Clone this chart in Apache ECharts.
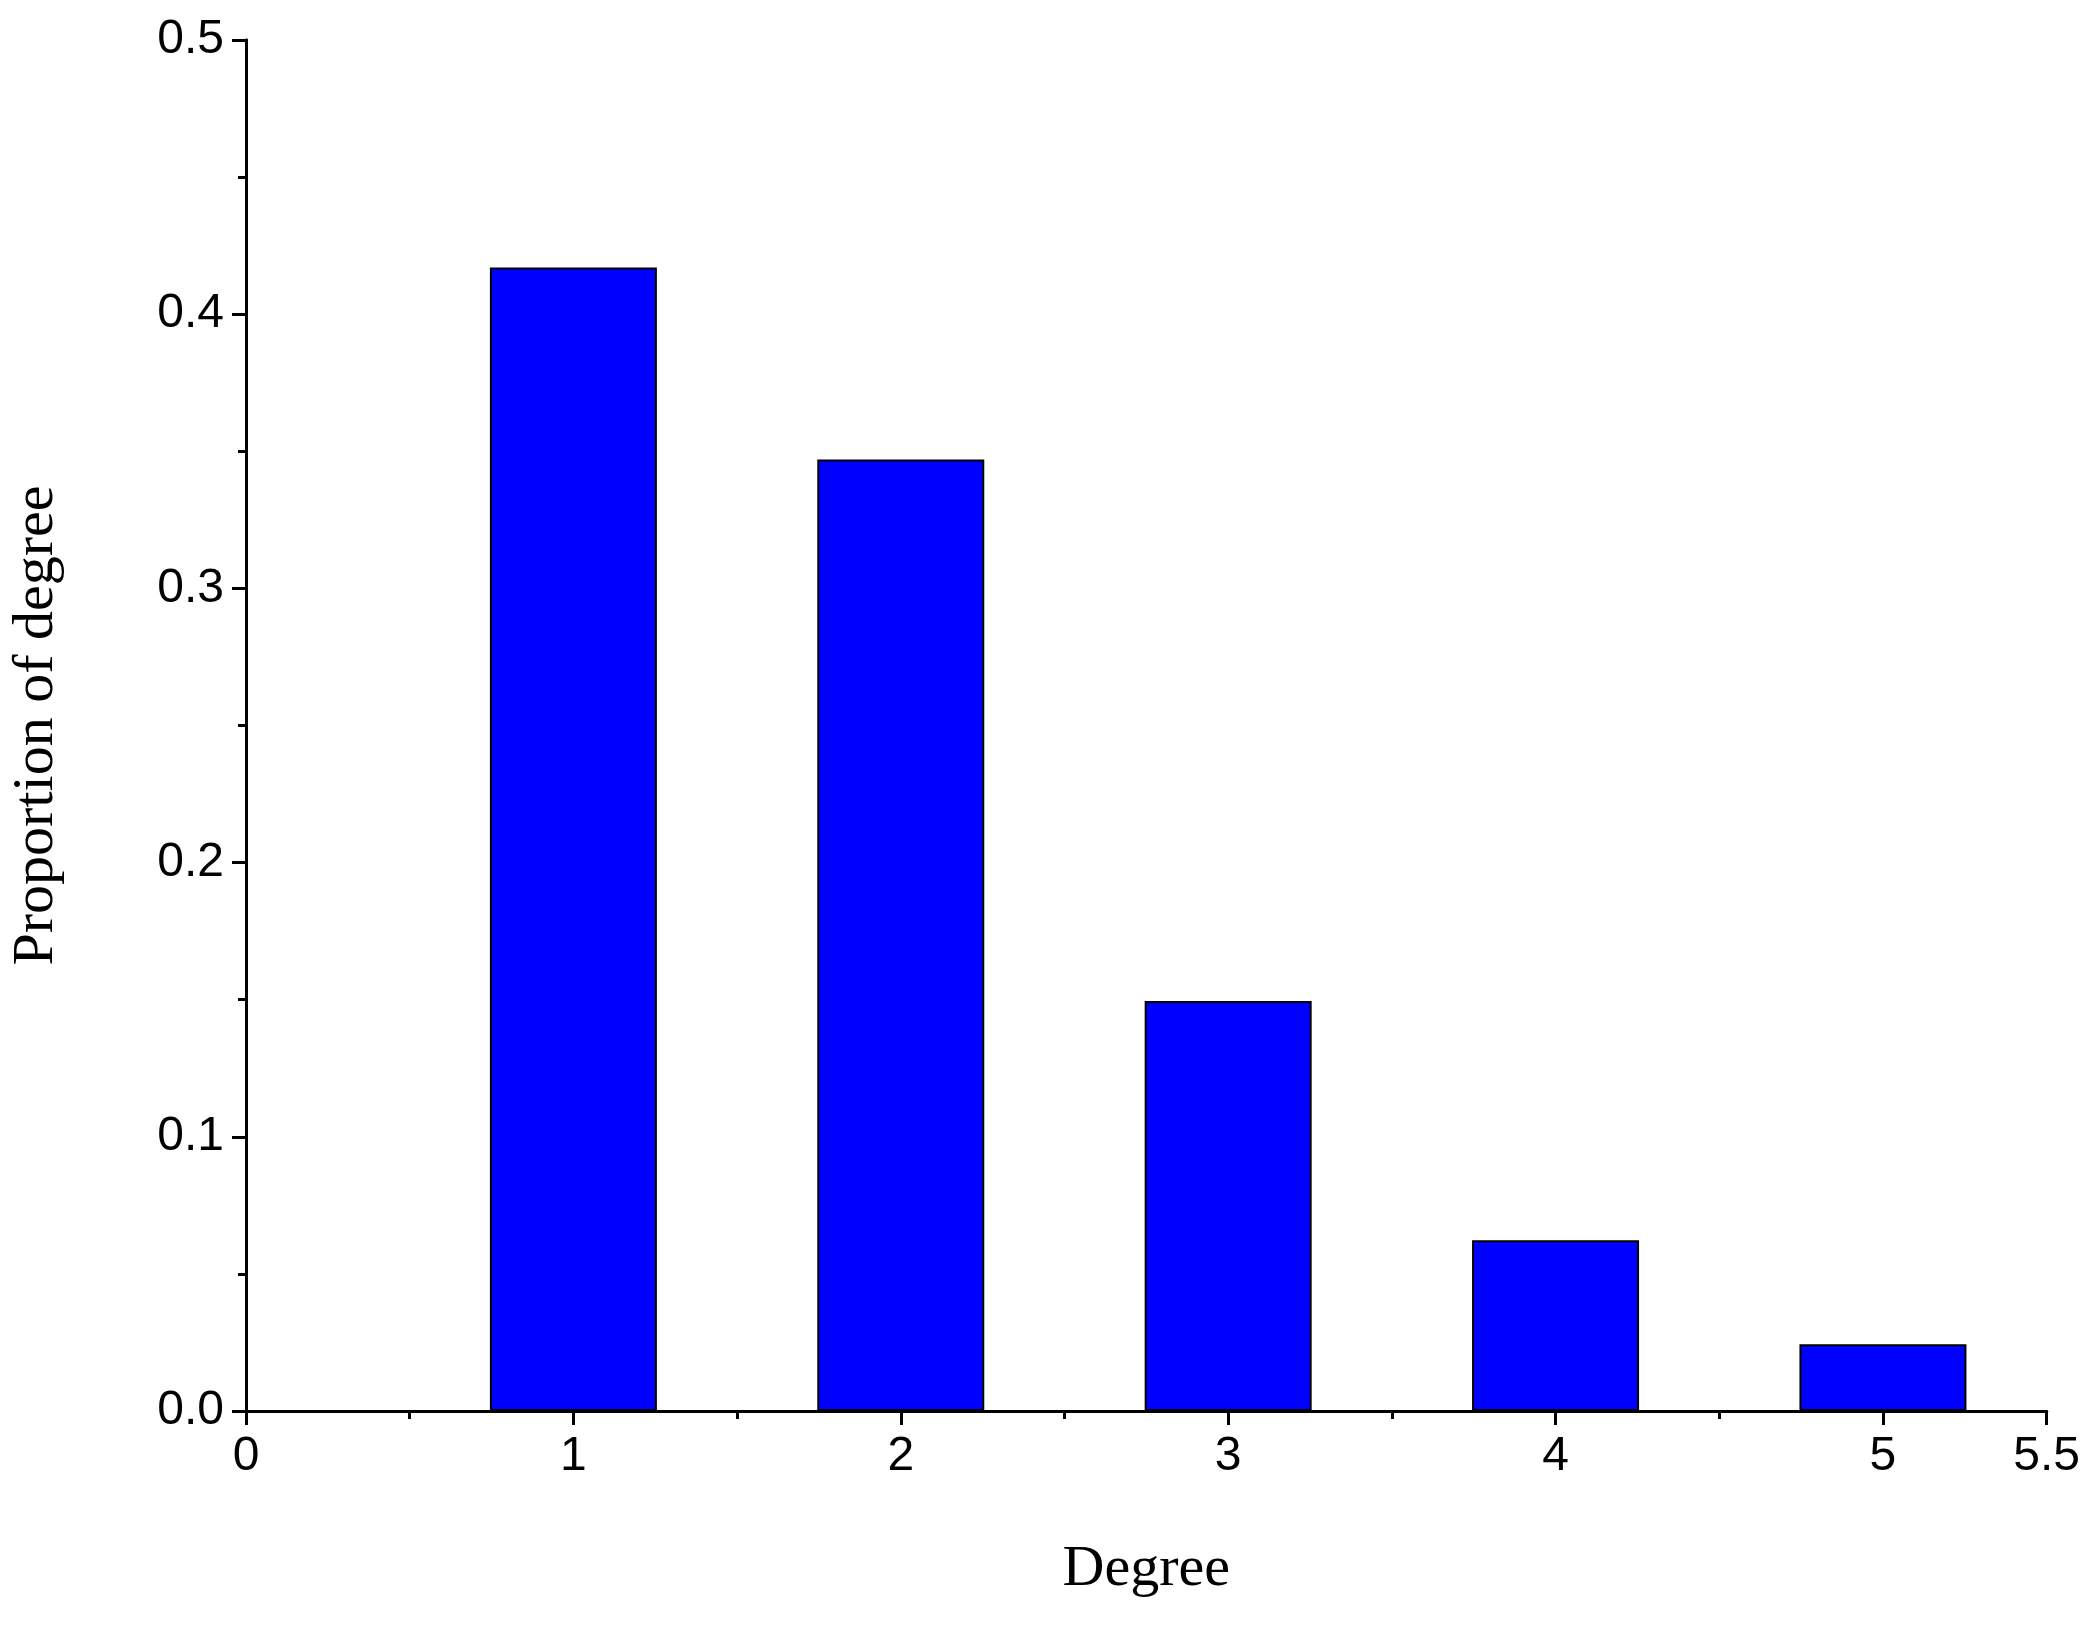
<!DOCTYPE html>
<html>
<head>
<meta charset="utf-8">
<script src="https://cdn.jsdelivr.net/npm/echarts@6/dist/echarts.min.js"></script>
<style>html,body{margin:0;padding:0;background:#fff}#chart{width:2083px;height:1627px}</style>
</head>
<body>
<div id="chart"></div>
<script>
var degrees = [1, 2, 3, 4, 5];
var proportions = [0.417, 0.347, 0.1495, 0.0623, 0.0243];

var chart = echarts.init(document.getElementById('chart'));
var lineStyle = { color: '#000', width: 3 };
var tickFont = { fontFamily: 'Liberation Sans', fontSize: 48, color: '#000' };

var option = {
    animation: false,
    backgroundColor: '#fff',
    grid: { left: 231, right: 17, top: 40, bottom: 216 },
    xAxis: [{
        type: 'value', min: 0, max: 5.5, interval: 1,
        name: 'Degree', nameLocation: 'middle', nameGap: 130,
        nameTextStyle: { fontFamily: 'Liberation Serif', fontSize: 58, color: '#000' },
        axisLine: { lineStyle: lineStyle },
        axisTick: { inside: false, length: 14, lineStyle: lineStyle },
        minorTick: { show: true, splitNumber: 2, length: 8, lineStyle: lineStyle },
        axisLabel: Object.assign({ margin: 22 }, tickFont),
        splitLine: { show: false }
    }, {
        type: 'value', position: 'top', min: 0, max: 5.5,
        axisLine: { show: true, lineStyle: lineStyle },
        axisTick: { show: false }, axisLabel: { show: false }, splitLine: { show: false }
    }],
    yAxis: [{
        type: 'value', min: 0, max: 0.5, interval: 0.1,
        name: 'Proportion of degree', nameLocation: 'middle', nameGap: 180,
        nameTextStyle: { fontFamily: 'Liberation Serif', fontSize: 58, color: '#000' },
        axisLine: { show: true, lineStyle: lineStyle },
        axisTick: { inside: false, length: 14, lineStyle: lineStyle },
        minorTick: { show: true, splitNumber: 2, length: 8, lineStyle: lineStyle },
        axisLabel: Object.assign({ margin: 22, formatter: function (v) { return v.toFixed(1); } }, tickFont),
        splitLine: { show: false }
    }, {
        type: 'value', position: 'right', min: 0, max: 0.5,
        axisLine: { show: true, lineStyle: lineStyle },
        axisTick: { show: false }, axisLabel: { show: false }, splitLine: { show: false }
    }],
    series: [{
        type: 'bar',
        barWidth: 167,
        data: degrees.map(function (d, i) { return [d, proportions[i]]; }),
        itemStyle: { color: '#0000ff', borderColor: '#000', borderWidth: 2 }
    }]
};
chart.setOption(option);
</script>
</body>
</html>
